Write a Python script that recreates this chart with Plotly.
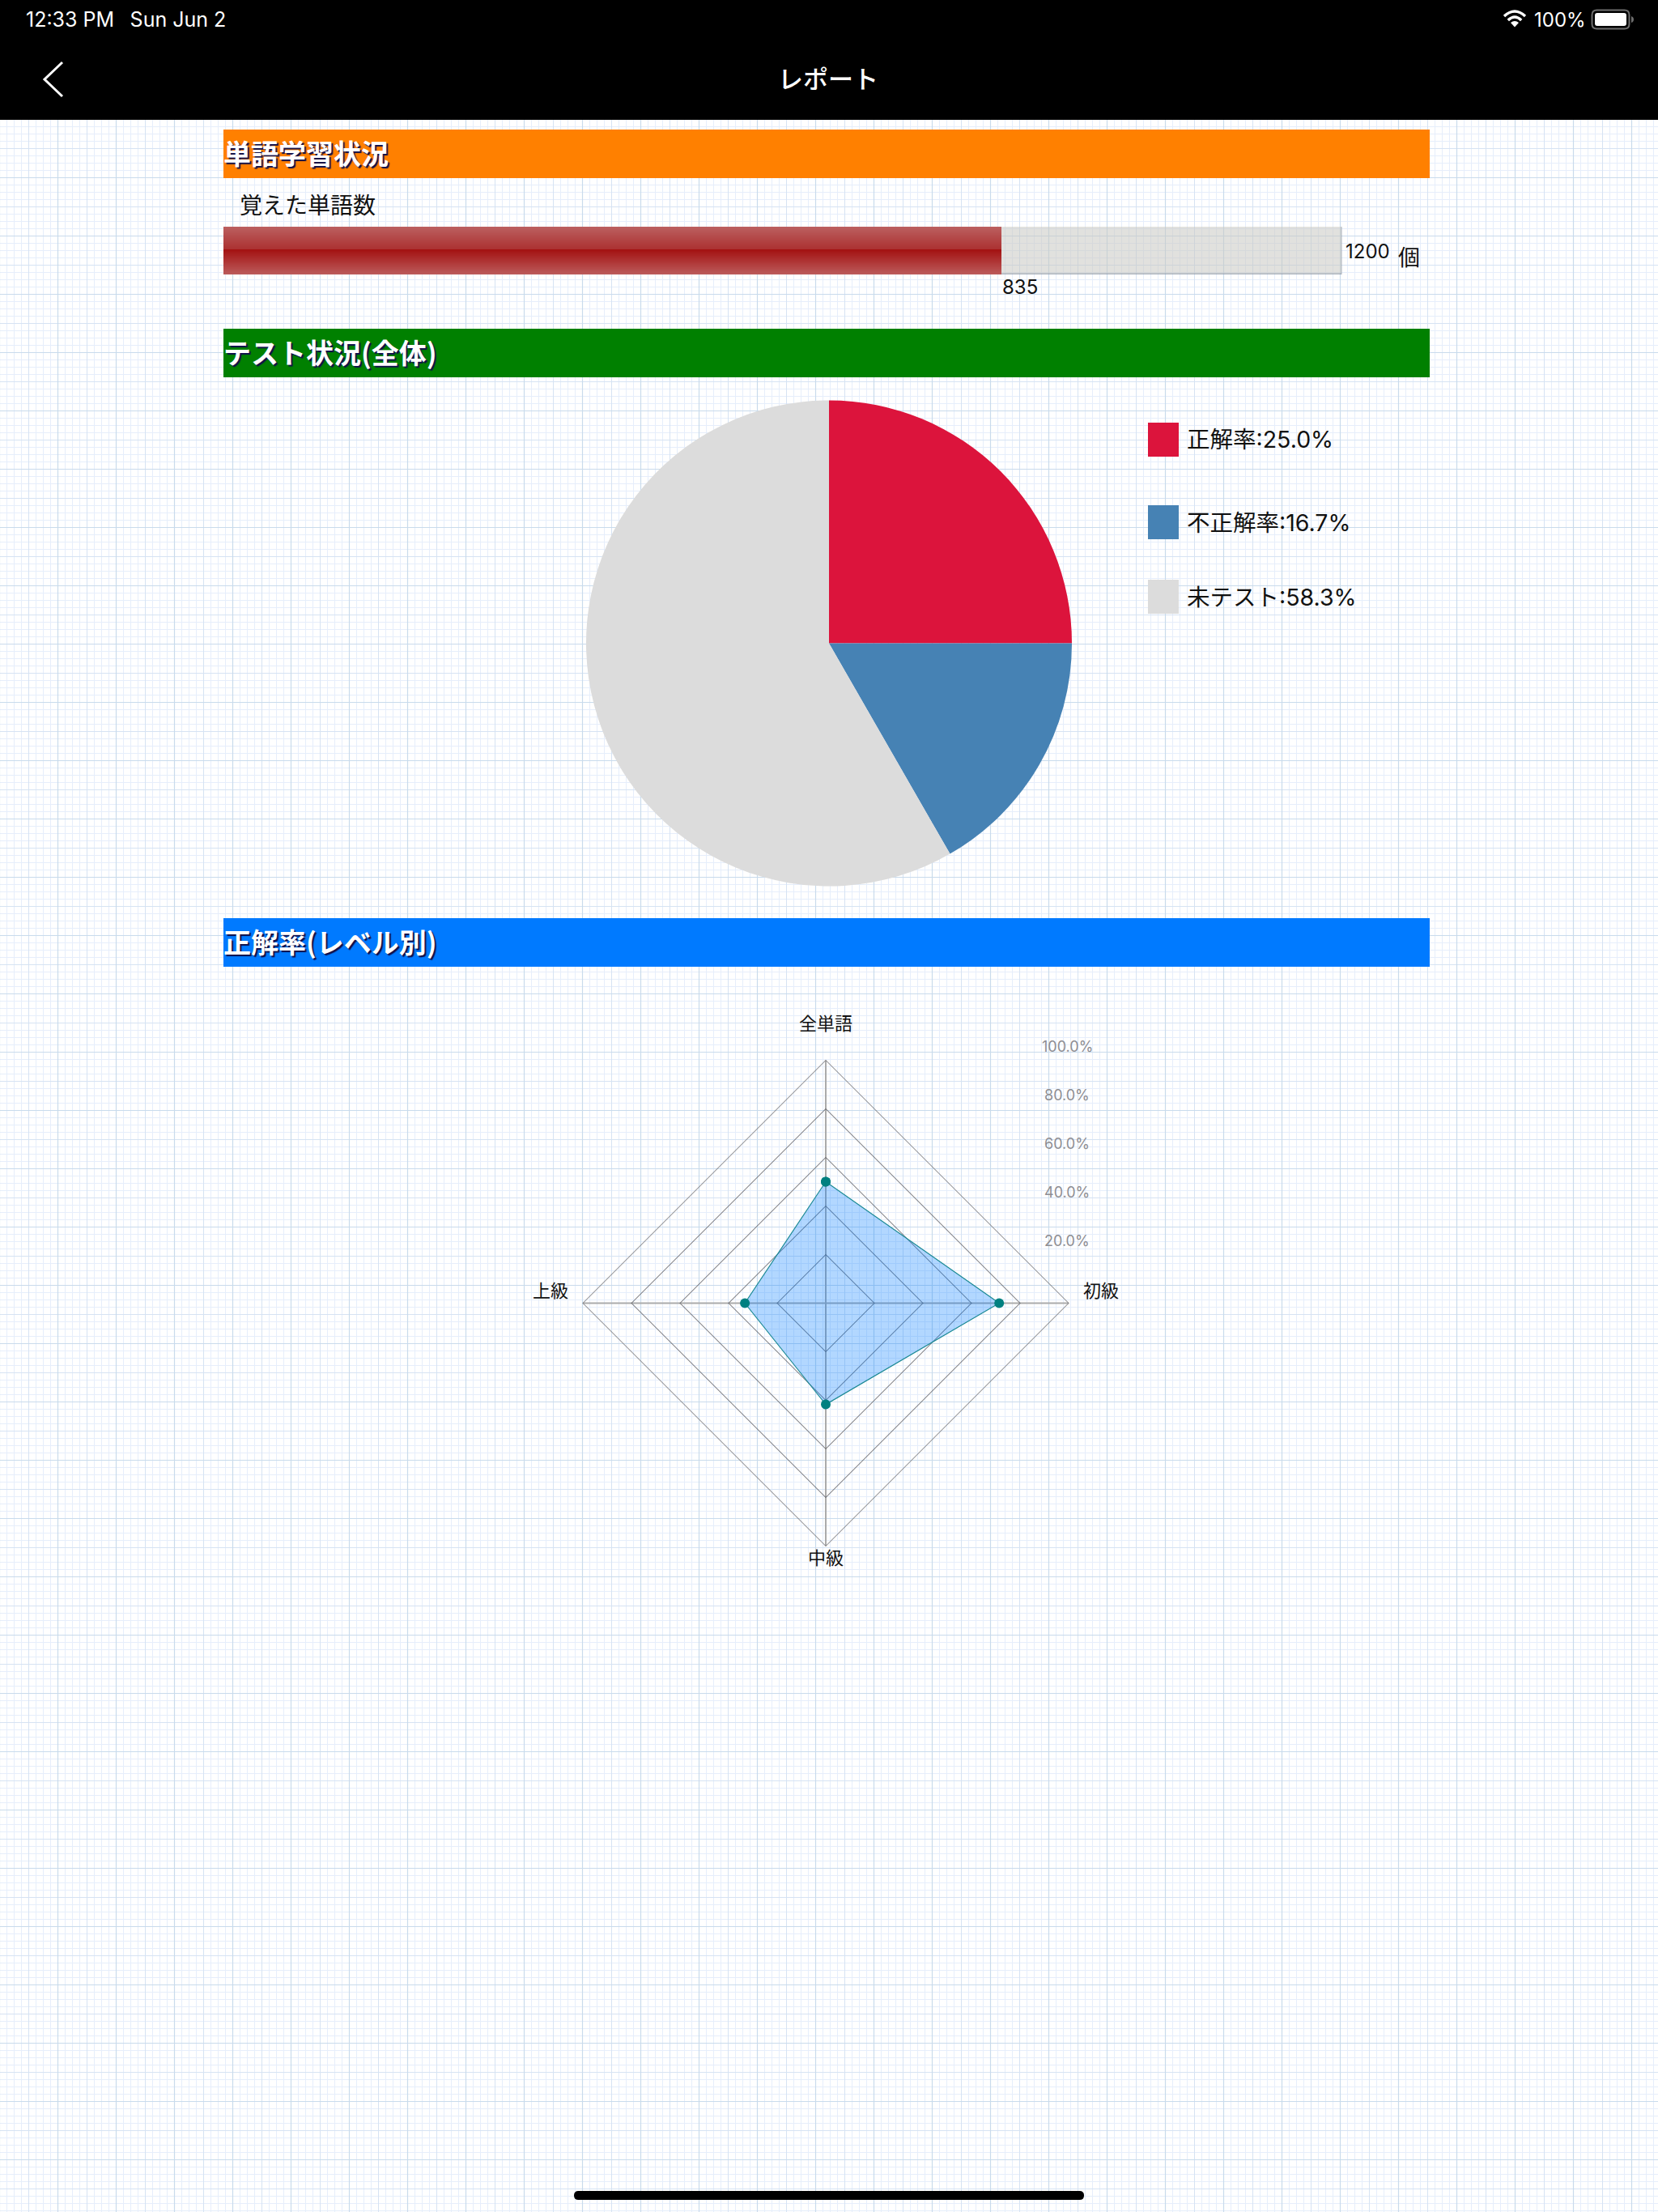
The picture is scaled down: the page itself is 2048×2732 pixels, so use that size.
import plotly.graph_objects as go
import numpy as np

W, H = 2048, 2732

# ---- data ----
learned_label = "覚えた単語数"
learned = 835
total = 1200
unit = "個"

pie_labels = ["正解率", "不正解率", "未テスト"]
pie_values = [25.0, 16.7, 58.3]
pie_colors = ["#DC143C", "#4682B4", "#DCDCDC"]

radar_categories = ["全単語", "初級", "中級", "上級"]
radar_values = [50.0, 71.4, 41.7, 33.3]
radar_ticks = [20, 40, 60, 80, 100]

section_titles = ["単語学習状況", "テスト状況(全体)", "正解率(レベル別)"]
section_colors = ["#FF8000", "#008000", "#007AFF"]

status_left = "12:33 PM\u2002 Sun Jun 2"
status_right = "100%"
nav_title = "レポート"

FONT = "Inter, 'Noto Sans CJK JP', sans-serif"
JP = "'Noto Sans CJK JP', sans-serif"


def rect(x0, y0, x1, y1, color):
    return dict(type="rect", xref="x", yref="y", x0=x0, y0=y0, x1=x1, y1=y1,
                fillcolor=color, line=dict(width=0), layer="below")


def path(d, color=None, fill=None, width=1):
    return dict(type="path", xref="x", yref="y", path=d, layer="below",
                fillcolor=fill if fill else "rgba(0,0,0,0)",
                line=dict(color=color if color else "rgba(0,0,0,0)", width=width if color else 0))


def rounded(x0, y0, x1, y1, r):
    return (f"M{x0+r},{y0} L{x1-r},{y0} Q{x1},{y0} {x1},{y0+r} L{x1},{y1-r} Q{x1},{y1} {x1-r},{y1} "
            f"L{x0+r},{y1} Q{x0},{y1} {x0},{y1-r} L{x0},{y0+r} Q{x0},{y0} {x0+r},{y0} Z")


def text(x, y, s, size, color="#111111", anchor="left", family=FONT, **font):
    return dict(xref="x", yref="y", x=x, y=y, text=s, showarrow=False, xanchor=anchor, yanchor="middle",
                align=anchor, font=dict(size=size, color=color, family=family, **font))


def grid_path(xs, ys):
    return " ".join([f"M{x},0 V{H}" for x in xs] + [f"M0,{y} H{W}" for y in ys])


# ---- paper background ----
xs_all = np.arange(0, W + 9, 9) - 0.5
ys_all = np.arange(3, H + 9, 9) + 0.5
shapes = [
    path(grid_path(xs_all, ys_all), color="#E6EEFB", width=1),
    path(grid_path(np.arange(36, W, 72) - 0.5, np.arange(39, H, 72) + 0.5), color="#D6E3F3", width=1),
    path(grid_path(np.arange(0, W, 72) - 0.5, np.arange(3, H, 72) + 0.5), color="#C9DBEC", width=1.2),
]

# ---- chrome ----
shapes += [
    rect(0, 0, W, 148, "#000000"),
    path("M77,77 L55,98 L77,119", color="#FFFFFF", width=3),
    # wifi
    path("M1858,20 Q1871,8 1884,20", color="#FFFFFF", width=3.4),
    path("M1862.8,25 Q1871,17 1879.2,25", color="#FFFFFF", width=3.4),
    path("M1871,33.5 L1866,28 Q1871,24 1876,28 Z", fill="#FFFFFF"),
    # battery
    path(rounded(1966.5, 12.5, 2012.5, 35.5, 6), color="#6E6E6E", width=2),
    path(rounded(1970, 16, 2009, 32, 3), fill="#FFFFFF"),
    path("M2015,20 Q2018,21 2018,24 Q2018,27 2015,28 Z", fill="#6E6E6E"),
    # home indicator
    path(rounded(709, 2706, 1339, 2717, 5.5), fill="#000000"),
]

# ---- section headers ----
header_y = [(160, 220), (406, 466), (1134, 1194)]
title_y = [188, 434, 1162]
for (y0, y1), c in zip(header_y, section_colors):
    shapes.append(rect(276, y0, 1766, y1, c))

annotations = [
    text(30, 24, status_left, 25, "#FFFFFF"),
    text(1893, 24, status_right, 24, "#FFFFFF"),
    text(1023, 95, nav_title, 31, "#FFFFFF", anchor="center", family=JP, weight=500),
]
for t, y in zip(section_titles, title_y):
    annotations.append(text(274, y, t, 34, "#FFFFFF", family=JP, weight="bold",
                            shadow="2px 2px 1px #10104a"))

# ---- progress labels ----
annotations += [
    text(294, 252, learned_label, 28, family=JP),
    text(1660, 310, str(total), 24),
    text(1725, 316, unit, 27, family=JP),
    text(1236, 354, str(learned), 24),
]

# ---- pie legend ----
legend_y = [(522, 564), (624, 666), (716, 758)]
legend_cy = [542, 645, 737]
for (y0, y1), c, cy, lab, v in zip(legend_y, pie_colors, legend_cy, pie_labels, pie_values):
    shapes.append(rect(1418, y0, 1456, y1, c))
    annotations.append(text(1464, cy, f"{lab}:{v:.1f}%", 28.5))

# ---- radar labels ----
cat_pos = [(1020, 1262), (1360, 1592), (1020, 1922), (680, 1592)]
for c, (x, y) in zip(radar_categories, cat_pos):
    annotations.append(text(x, y, c, 22, anchor="center", family=JP))
tick_y = [1532, 1472, 1412, 1352, 1292]
for t, y in zip(radar_ticks, tick_y):
    annotations.append(text(1318, y, f"{t:.1f}%", 18, "#8E8E93", anchor="center"))

fig = go.Figure()

# page-pixel axes carrying chrome and background
fig.add_trace(go.Scatter(x=[0, W], y=[0, H], mode="markers", marker=dict(opacity=0), hoverinfo="skip",
                         showlegend=False, xaxis="x", yaxis="y"))

# ---- progress bar ----
BAND_COUNT = 59
t = (np.arange(BAND_COUNT) + 0.5) / BAND_COUNT
colors = []
for v in t:
    if v < 0.47:
        a = v / 0.47
        c0, c1 = (188, 96, 96), (172, 50, 50)
    else:
        a = (v - 0.47) / 0.53
        c0, c1 = (163, 16, 16), (188, 92, 92)
    colors.append("rgb(%d,%d,%d)" % tuple(c0[i] + (c1[i] - c0[i]) * a for i in range(3)))

fig.add_trace(go.Bar(x=[total], y=[BAND_COUNT / 2], width=[BAND_COUNT], orientation="h",
                     marker=dict(color="rgba(200,200,195,0.55)",
                                 line=dict(color="rgba(150,160,175,0.75)", width=1.5)),
                     hoverinfo="skip", showlegend=False, xaxis="x2", yaxis="y2"))
fig.add_trace(go.Bar(x=[learned] * BAND_COUNT, y=BAND_COUNT - (np.arange(BAND_COUNT) + 0.5),
                     width=[1] * BAND_COUNT, orientation="h",
                     marker=dict(color=colors, line=dict(width=0)),
                     hoverinfo="skip", showlegend=False, xaxis="x2", yaxis="y2"))

# ---- pie ----
fig.add_trace(go.Pie(labels=pie_labels, values=pie_values, sort=False, direction="clockwise", rotation=0,
                     marker=dict(colors=pie_colors, line=dict(width=0)), textinfo="none", showlegend=False,
                     domain=dict(x=[724 / W, 1324 / W], y=[1 - 1095 / H, 1 - 494 / H])))

# ---- radar ----
fig.add_trace(go.Scatterpolar(r=radar_values + radar_values[:1], theta=radar_categories + radar_categories[:1],
                              mode="lines+markers", fill="toself", fillcolor="rgba(0,122,255,0.30)",
                              line=dict(color="#1C8A96", width=1.2),
                              marker=dict(color="#008080", size=12), showlegend=False))

fig.update_layout(
    width=W, height=H, margin=dict(l=0, r=0, t=0, b=0), autosize=False,
    paper_bgcolor="#FFFFFF", plot_bgcolor="rgba(0,0,0,0)", barmode="overlay", bargap=0,
    shapes=shapes, annotations=annotations,
    xaxis=dict(range=[0, W], domain=[0, 1], visible=False, fixedrange=True),
    yaxis=dict(range=[H, 0], domain=[0, 1], visible=False, fixedrange=True),
    xaxis2=dict(range=[0, total], domain=[276 / W, 1657.5 / W], visible=False, anchor="y2"),
    yaxis2=dict(range=[0, BAND_COUNT], domain=[1 - 339 / H, 1 - 280 / H], visible=False, anchor="x2"),
    polar=dict(
        domain=dict(x=[720 / W, 1320 / W], y=[1 - 1909.5 / H, 1 - 1309.5 / H]),
        gridshape="linear", bgcolor="rgba(0,0,0,0)",
        radialaxis=dict(range=[0, 100], tickvals=radar_ticks, showticklabels=False, ticks="",
                        showline=False, gridcolor="#55555A", gridwidth=1.3),
        angularaxis=dict(type="category", categoryorder="array", categoryarray=radar_categories,
                         rotation=90, direction="clockwise", showticklabels=False, ticks="",
                         gridcolor="#ABABAB", gridwidth=2, showline=True, linecolor="#707075", linewidth=1),
    ),
)

fig.write_html("out.html", config=dict(displayModeBar=False),
               post_script="document.documentElement.style.margin='0';document.body.style.margin='0';")
